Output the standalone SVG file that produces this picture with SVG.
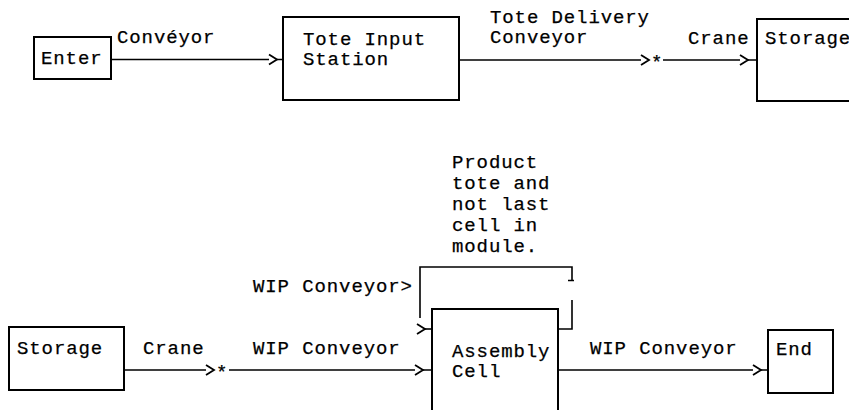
<svg xmlns="http://www.w3.org/2000/svg" width="849" height="410" viewBox="0 0 849 410">
  <style>
    text { font-family: "Liberation Mono", "Courier New", monospace; font-size: 19px; letter-spacing: 0.9px; fill: #000; stroke: #000; stroke-width: 0.25; }
    .box { fill: #fff; stroke: #000; stroke-width: 2; }
    .ln { fill: none; stroke: #000; stroke-width: 1.6; }
  </style>
  <defs>
    <!-- open chevron, tip at the origin -->
    <path id="chev" d="M-8,-5 L0,0 L-8,5" fill="none" stroke="#000" stroke-width="1.8"/>
  </defs>
  <rect width="849" height="410" fill="#fff"/>

  <!-- connectors -->
  <g id="connectors">
    <!-- Enter -> Tote Input Station -->
    <path class="ln" d="M111,59.5 H269 M277,59.5 H283"/>
    <use href="#chev" x="277" y="59.5"/>
    <text x="117" y="43">Convéyor</text>

    <!-- Tote Input Station -> Storage -->
    <path class="ln" d="M459,60 H641 M663,60 H740 M748,60 H757"/>
    <use href="#chev" x="649" y="60"/>
    <text x="651" y="68">*</text>
    <use href="#chev" x="748" y="60"/>
    <text x="490" y="23">Tote Delivery</text>
    <text x="490" y="43">Conveyor</text>
    <text x="688" y="44">Crane</text>

    <!-- Storage -> Assembly Cell -->
    <path class="ln" d="M124,370 H206 M229,370 H415 M423,370 H432"/>
    <use href="#chev" x="214" y="370"/>
    <text x="216" y="378">*</text>
    <use href="#chev" x="423" y="370"/>
    <text x="143" y="354">Crane</text>
    <text x="253" y="354">WIP Conveyor</text>

    <!-- recirculation loop around Assembly Cell -->
    <path class="ln" d="M420,318 V267 H572 V280 M568,280.5 H574 M572,300 V329 H558"/>
    <path class="ln" d="M425,329 H432"/>
    <use href="#chev" x="425" y="329"/>
    <text x="253" y="292">WIP Conveyor&gt;</text>
    <text x="452" y="168">Product</text>
    <text x="452" y="189">tote and</text>
    <text x="452" y="210">not last</text>
    <text x="452" y="231">cell in</text>
    <text x="452" y="252">module.</text>

    <!-- Assembly Cell -> End -->
    <path class="ln" d="M558,370 H753 M761,370 H768"/>
    <use href="#chev" x="761" y="370"/>
    <text x="590" y="354">WIP Conveyor</text>
  </g>

  <g id="enter">
    <rect class="box" x="34" y="37" width="77" height="42"/>
    <text x="41" y="64">Enter</text>
  </g>

  <g id="tote-input-station">
    <rect class="box" x="283" y="17" width="176" height="83"/>
    <text x="303" y="45">Tote Input</text>
    <text x="303" y="65">Station</text>
  </g>

  <g id="storage-top">
    <rect class="box" x="757" y="19" width="110" height="82"/>
    <text x="765" y="44">Storage</text>
  </g>

  <g id="storage-bottom">
    <rect class="box" x="9" y="327" width="115" height="63"/>
    <text x="17" y="354">Storage</text>
  </g>

  <g id="assembly-cell">
    <rect class="box" x="432" y="309" width="126" height="120"/>
    <text x="452" y="357">Assembly</text>
    <text x="452" y="377">Cell</text>
  </g>

  <g id="end">
    <rect class="box" x="768" y="330" width="65" height="63"/>
    <text x="776" y="355">End</text>
  </g>
</svg>
